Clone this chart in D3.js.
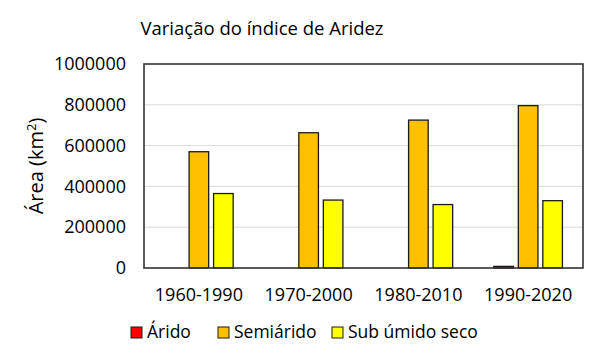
<!DOCTYPE html>
<html>
<head>
<meta charset="utf-8">
<script src="https://cdn.jsdelivr.net/npm/d3@7"></script>
<style>
  body { margin: 0; background: #fff; }
  svg { display: block; font-family: "Open Sans", sans-serif; }
</style>
</head>
<body>
<div id="chart"></div>
<script>
const periods = ['1960-1990', '1970-2000', '1980-2010', '1990-2020'];
const seriesNames = ['Árido', 'Semiárido', 'Sub úmido seco'];
const arido = [0, 0, 0, 8000];
const semiarido = [570000, 663000, 725000, 796000];
const subUmido = [365000, 333000, 311000, 330000];
const colours = ['#FF0000', '#FFC000', '#FFFF00'];

(function () {
    const width = 601, height = 360;
    const margin = { left: 144, right: 18, top: 64, bottom: 92 };
    const plotW = width - margin.left - margin.right;
    const plotH = height - margin.top - margin.bottom;

    const values = [arido, semiarido, subUmido];
    const data = periods.map((p, i) => ({
        period: p,
        bars: seriesNames.map((s, j) => ({ series: s, value: values[j][i] })),
    }));

    const svg = d3.select('#chart')
                  .append('svg')
                  .attr('width', width)
                  .attr('height', height);

    svg.append('text')
       .attr('x', 262)
       .attr('y', 35)
       .attr('text-anchor', 'middle')
       .attr('font-size', '18.5px')
       .attr('fill', '#000')
       .text('Variação do índice de Aridez');

    const g = svg.append('g')
                 .attr('transform', `translate(${margin.left}, ${margin.top})`);

    const x0 = d3.scaleBand()
                 .domain(periods)
                 .range([0, plotW])
                 .padding(0);
    const x1 = d3.scaleBand()
                 .domain(seriesNames)
                 .range([0, x0.bandwidth()])
                 .paddingInner(0.2)
                 .paddingOuter(0.84);
    const y = d3.scaleLinear()
                .domain([0, 1000000])
                .range([plotH, 0]);

    // gridlines
    g.append('g')
     .selectAll('line')
     .data(y.ticks(5).filter(t => t > 0 && t < 1000000))
     .enter()
     .append('line')
     .attr('x1', 0)
     .attr('x2', plotW)
     .attr('y1', d => y(d))
     .attr('y2', d => y(d))
     .attr('stroke', '#d9d9d9')
     .attr('stroke-width', 1);

    // bars
    const group = g.selectAll('.grp')
                   .data(data)
                   .enter()
                   .append('g')
                   .attr('transform', d => `translate(${x0(d.period)}, 0)`);
    group.selectAll('rect')
         .data(d => d.bars.filter(b => b.value > 0))
         .enter()
         .append('rect')
         .attr('x', d => x1(d.series))
         .attr('y', d => y(d.value))
         .attr('width', x1.bandwidth())
         .attr('height', d => plotH - y(d.value))
         .attr('fill', d => colours[seriesNames.indexOf(d.series)])
         .attr('stroke', '#1a1a1a')
         .attr('stroke-width', 1.3);

    // frame
    g.append('rect')
     .attr('x', 0)
     .attr('y', 0)
     .attr('width', plotW)
     .attr('height', plotH)
     .attr('fill', 'none')
     .attr('stroke', '#333')
     .attr('stroke-width', 1.6);

    // axes
    g.append('g')
     .call(d3.axisLeft(y).ticks(5).tickFormat(d3.format('d')).tickSize(0).tickPadding(18))
     .call(a => a.select('.domain').remove())
     .selectAll('text')
     .attr('font-size', '18px')
     .attr('font-family', '"Open Sans", sans-serif')
     .attr('fill', '#000');

    g.append('g')
     .attr('transform', `translate(0, ${plotH})`)
     .call(d3.axisBottom(x0).tickSize(0).tickPadding(20))
     .call(a => a.select('.domain').remove())
     .selectAll('text')
     .attr('font-size', '18px')
     .attr('font-family', '"Open Sans", sans-serif')
     .attr('fill', '#000');

    // y title
    const yt = svg.append('text')
                  .attr('transform', 'translate(43, 166) rotate(-90)')
                  .attr('text-anchor', 'middle')
                  .attr('font-size', '20px')
                  .attr('fill', '#000');
    yt.append('tspan').text('Área (km');
    yt.append('tspan').attr('font-size', '13px').attr('dy', '-7').text('2');
    yt.append('tspan').attr('dy', '7').text(')');

    // legend
    const legendX = [131, 218, 332];
    const legend = svg.selectAll('.legend')
                      .data(seriesNames)
                      .enter()
                      .append('g')
                      .attr('transform', (d, i) => `translate(${legendX[i]}, 327)`);
    legend.append('rect')
          .attr('width', 11)
          .attr('height', 11)
          .attr('fill', (d, i) => colours[i])
          .attr('stroke', '#1a1a1a')
          .attr('stroke-width', 1);
    legend.append('text')
          .attr('x', 16)
          .attr('y', 11)
          .attr('font-size', '17.5px')
          .attr('fill', '#000')
          .text(d => d);
})();
</script>
</body>
</html>
